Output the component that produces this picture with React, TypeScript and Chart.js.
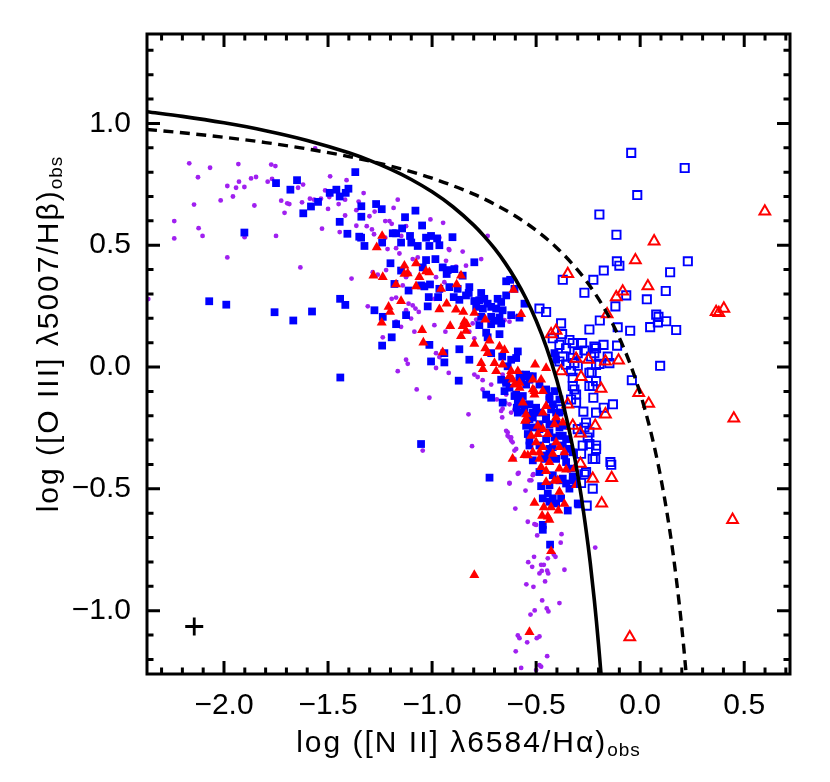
import { useEffect, useRef } from 'react';
import { Chart, registerables } from 'chart.js';

Chart.register(...registerables);

type P = [number, number];

const X_MIN = -2.37;
const X_MAX = 0.72;
const Y_MIN = -1.26;
const Y_MAX = 1.367;

const xTickValues = [-2.0, -1.5, -1.0, -0.5, 0.0, 0.5];
const yTickValues = [-1.0, -0.5, 0.0, 0.5, 1.0];

const xTitleMain = 'log ([N II] λ6584/Hα)';
const yTitleMain = 'log ([O III] λ5007/Hβ)';
const titleSub = 'obs';

// Kauffmann et al. (2003) demarcation, sampled
const kauffmannX = [-2.37, -2.2, -2.0, -1.8, -1.6, -1.4, -1.3, -1.2, -1.1, -1.0, -0.9, -0.8, -0.75, -0.7, -0.65, -0.6, -0.55, -0.5, -0.45, -0.4, -0.35, -0.32, -0.3, -0.28, -0.25, -0.24, -0.22, -0.21, -0.2, -0.195, -0.188];
const kauffmannY = [1.0479, 1.0289, 1.0024, 0.9703, 0.9303, 0.8793, 0.8481, 0.812, 0.7696, 0.719, 0.6579, 0.5824, 0.5375, 0.4867, 0.4286, 0.3615, 0.2833, 0.1909, 0.08, -0.0556, -0.225, -0.3486, -0.4429, -0.5485, -0.7333, -0.8034, -0.9593, -1.0462, -1.14, -1.1898, -1.263];

// Kewley et al. (2001) demarcation, sampled
const kewleyX = [-2.37, -2.2, -2.0, -1.8, -1.6, -1.4, -1.2, -1.0, -0.8, -0.7, -0.6, -0.5, -0.4, -0.3, -0.25, -0.2, -0.15, -0.1, -0.05, 0.0, 0.025, 0.05, 0.075, 0.1, 0.13, 0.16, 0.19, 0.2, 0.21, 0.221];
const kewleyY = [0.9752, 0.9615, 0.943, 0.9213, 0.8953, 0.8638, 0.8247, 0.775, 0.7097, 0.6686, 0.6199, 0.5611, 0.4888, 0.3978, 0.3428, 0.2796, 0.2061, 0.1198, 0.0169, -0.1079, -0.1808, -0.2624, -0.3543, -0.4586, -0.6041, -0.7777, -0.9886, -1.0693, -1.1562, -1.2598];

const purpleDots: P[] = [
  [-2.167, 0.836], [-2.067, 0.818], [-1.931, 0.833], [-1.773, 0.831], [-1.753, 0.825], [-2.125, 0.779], [-1.928, 0.761], [-1.87, 0.774],
  [-1.846, 0.78], [-1.79, 0.761], [-1.769, 0.772], [-1.984, 0.743], [-1.942, 0.736], [-1.902, 0.739], [-1.957, 0.7], [-2.016, 0.684],
  [-2.144, 0.667], [-1.854, 0.663], [-2.239, 0.599], [-2.122, 0.57], [-2.239, 0.528], [-2.103, 0.538], [-1.75, 0.538], [-1.901, 0.533],
  [-1.725, 0.683], [-1.709, 0.633], [-1.696, 0.672], [-1.686, 0.669], [-1.644, 0.736], [-1.62, 0.749], [-1.625, 0.676], [-1.587, 0.691],
  [-1.567, 0.687], [-1.534, 0.691], [-1.514, 0.725], [-1.5, 0.649], [-1.529, 0.568], [-1.49, 0.783], [-1.494, 0.698], [-1.449, 0.669],
  [-1.444, 0.554], [-1.418, 0.622], [-1.418, 0.687], [-1.411, 0.767], [-1.364, 0.644], [-1.364, 0.58], [-1.353, 0.679], [-1.562, 0.897],
  [-1.984, 0.45], [-1.633, 0.409], [-1.387, 0.363], [-2.364, 0.279],
  [-1.329, 0.714], [-1.165, 0.687], [-1.185, 0.653], [-1.276, 0.638], [-1.301, 0.619], [-1.008, 0.606], [-0.947, 0.592], [-1.225, 0.599],
  [-1.205, 0.599], [-1.194, 0.588], [-1.125, 0.578], [-1.314, 0.578], [-1.289, 0.565], [-1.279, 0.545], [-1.148, 0.538], [-1.225, 0.531],
  [-0.965, 0.531], [-0.733, 0.538], [-0.92, 0.484],
  [-1.214, 0.484], [-1.173, 0.488], [-1.157, 0.466], [-1.093, 0.443], [-1.069, 0.45], [-0.917, 0.48], [-0.853, 0.474], [-0.764, 0.443],
  [-0.885, 0.412], [-0.837, 0.416], [-0.933, 0.436],
  [-1.309, 0.249], [-1.194, 0.28], [-1.173, 0.285], [-1.113, 0.26], [-1.093, 0.253], [-1.08, 0.24], [-1.064, 0.226], [-1.101, 0.199],
  [-1.125, 0.233], [-0.989, 0.172], [-0.917, 0.165], [-0.936, 0.145], [-1.085, 0.145], [-0.805, 0.179], [-0.788, 0.195], [-0.821, 0.145],
  [-0.797, 0.118], [-0.981, 0.057], [-0.965, 0.041], [-1.125, 0.03], [-1.117, 0.013], [-1.165, -0.017], [-0.981, -0.004], [-0.92, -0.024],
  [-1.074, -0.092], [-1.013, -0.126], [-0.757, -0.054], [-0.716, -0.072], [-0.757, -0.092], [-0.689, -0.133], [-0.648, -0.146], [-0.661, -0.171],
  [-0.663, -0.207], [-0.62, -0.187], [-0.825, -0.194], [-0.644, -0.262], [-0.637, -0.282], [-0.62, -0.289], [-0.613, -0.309], [-0.808, -0.325],
  [-0.604, -0.343], [-1.045, -0.343], [-0.604, 0.206], [-0.628, 0.186], [-0.652, 0.192], [-0.989, 0.28], [-0.957, 0.314], [-1.141, 0.335],
  [-1.125, 0.369], [-1.109, 0.382], [-0.981, 0.369], [-0.941, 0.348], [-1.173, 0.186], [-1.149, 0.165], [-1.237, 0.122], [-0.797, -0.031],
  [-0.781, -0.041], [-0.661, -0.031], [-1.285, 0.389], [-1.261, 0.379], [-1.221, 0.398],
  [-0.644, -0.113], [-0.668, -0.18], [-0.628, -0.153], [-0.604, -0.174], [-0.637, -0.268], [-0.628, -0.289], [-0.62, -0.302], [-0.596, -0.336],
  [-0.604, -0.377], [-0.588, -0.438], [-0.628, -0.478], [-0.532, -0.465], [-0.516, -0.444],
  [-0.584, -0.435], [-0.513, -0.44], [-0.523, -0.465], [-0.628, -0.476], [-0.551, -0.507], [-0.6, -0.581], [-0.54, -0.635], [-0.508, -0.645],
  [-0.5, -0.648], [-0.495, -0.691], [-0.378, -0.686], [-0.382, -0.721], [-0.415, -0.77], [-0.407, -0.779], [-0.444, -0.785], [-0.51, -0.779],
  [-0.538, -0.801], [-0.519, -0.82], [-0.476, -0.812], [-0.463, -0.812], [-0.484, -0.847], [-0.473, -0.837], [-0.447, -0.836], [-0.442, -0.847],
  [-0.364, -0.832], [-0.457, -0.88], [-0.547, -0.892], [-0.513, -0.902], [-0.471, -0.958], [-0.388, -0.969], [-0.449, -0.991], [-0.441, -1.003],
  [-0.507, -0.999], [-0.527, -1.016], [-0.588, -1.102], [-0.58, -1.113], [-0.497, -1.113], [-0.484, -1.106], [-0.543, -1.13], [-0.598, -1.167],
  [-0.447, -1.187], [-0.572, -1.235], [-0.484, -1.224], [-0.476, -1.23], [-0.5, -1.244], [-0.216, -0.741],
];

const blueFilledSquares: P[] = [
  [-1.75, 0.755], [-1.649, 0.767], [-1.681, 0.728], [-1.619, 0.631], [-1.582, 0.659], [-1.548, 0.678], [-1.492, 0.715], [-1.46, 0.728],
  [-1.444, 0.7], [-1.415, 0.715], [-1.402, 0.732], [-1.444, 0.596], [-1.407, 0.547], [-1.369, 0.8], [-1.902, 0.552], [-1.35, 0.535],
  [-2.071, 0.27], [-1.989, 0.256], [-1.757, 0.225], [-1.667, 0.191], [-1.577, 0.228], [-1.442, 0.28], [-1.417, 0.255], [-1.441, -0.043],
  [-1.34, 0.66], [-1.269, 0.669], [-1.242, 0.648], [-1.34, 0.617], [-1.13, 0.615], [-1.08, 0.642], [-1.048, 0.581], [-1.144, 0.569],
  [-1.189, 0.549], [-1.173, 0.549], [-1.341, 0.531], [-1.24, 0.511], [-1.149, 0.511], [-1.106, 0.538], [-1.1, 0.511], [-1.069, 0.497],
  [-1.029, 0.531], [-1.005, 0.538], [-0.976, 0.528], [-0.965, 0.5], [-1.013, 0.497], [-0.902, 0.533], [-1.325, 0.497],
  [-1.2, 0.426], [-1.149, 0.396], [-1.029, 0.439], [-0.984, 0.443], [-1.045, 0.409], [-0.949, 0.409], [-0.925, 0.398], [-0.893, 0.402],
  [-0.797, 0.43], [-0.853, 0.375], [-0.93, 0.382], [-1.053, 0.335], [-1.037, 0.331], [-1.01, 0.339], [-1.181, 0.341], [-1.113, 0.314],
  [-0.965, 0.321], [-0.917, 0.328], [-0.877, 0.321], [-0.821, 0.328], [-0.644, 0.352], [-0.625, 0.358], [-0.604, 0.321], [-1.016, 0.287],
  [-0.971, 0.287], [-0.896, 0.287], [-0.869, 0.276], [-0.837, 0.294], [-0.824, 0.304], [-0.764, 0.304], [-0.797, 0.271], [-0.773, 0.274],
  [-0.749, 0.28], [-0.733, 0.26], [-0.685, 0.28], [-0.668, 0.267], [-0.644, 0.294], [-0.788, 0.247], [-0.756, 0.24], [-0.716, 0.247],
  [-0.692, 0.24], [-0.661, 0.233], [-0.556, 0.26], [-0.62, 0.213], [-0.58, 0.203], [-0.764, 0.206], [-0.716, 0.206], [-0.676, 0.203],
  [-0.668, 0.179], [-0.7, 0.19], [-0.716, 0.176], [-0.773, 0.172], [-1.277, 0.233], [-1.237, 0.206], [-1.125, 0.213], [-1.173, 0.176],
  [-1.021, 0.249], [-1.194, 0.122], [-1.24, 0.088], [-1.013, 0.091], [-0.74, 0.141], [-0.733, 0.122], [-0.676, 0.135], [-0.869, 0.073],
  [-0.821, 0.03], [-0.941, 0.057], [-1.005, 0.023], [-0.941, 0.019], [-0.716, 0.057], [-0.663, 0.043], [-0.62, 0.03], [-0.588, 0.064],
  [-0.872, -0.056], [-0.74, -0.113], [-0.716, -0.126], [-1.053, -0.316], [-0.668, -0.052], [-0.644, -0.058],
  [-0.58, -0.031], [-0.548, -0.031], [-0.532, -0.052], [-0.58, -0.058], [-0.548, -0.072], [-0.516, -0.038], [-0.596, -0.113], [-0.564, -0.119],
  [-0.588, -0.139], [-0.532, -0.153], [-0.5, -0.167], [-0.516, -0.187], [-0.556, -0.18], [-0.532, -0.214], [-0.436, -0.133], [-0.42, -0.153],
  [-0.428, -0.174], [-0.452, -0.207], [-0.404, -0.187], [-0.548, -0.241], [-0.516, -0.248], [-0.484, -0.235], [-0.436, -0.235], [-0.388, -0.248],
  [-0.54, -0.275], [-0.452, -0.296], [-0.412, -0.289], [-0.372, -0.282], [-0.532, -0.322], [-0.436, -0.336], [-0.372, -0.322], [-0.364, -0.363],
  [-0.428, -0.37], [-0.516, -0.383], [-0.46, -0.377], [-0.644, -0.065], [-0.652, -0.099], [-0.661, -0.146], [-0.593, -0.167],
  [-0.532, -0.038], [-0.484, -0.072], [-0.452, -0.092], [-0.436, -0.119], [-0.412, -0.099], [-0.388, -0.133], [-0.388, -0.187], [-0.484, -0.187],
  [-0.516, -0.207], [-0.452, -0.214], [-0.404, -0.228], [-0.364, -0.241], [-0.484, -0.255], [-0.436, -0.268], [-0.388, -0.282], [-0.356, -0.296],
  [-0.532, -0.302], [-0.484, -0.322], [-0.42, -0.329], [-0.348, -0.336], [-0.324, -0.35], [-0.452, -0.363], [-0.404, -0.377], [-0.356, -0.39],
  [-0.332, -0.417], [-0.484, -0.431], [-0.42, -0.444], [-0.372, -0.458], [-0.324, -0.465], [-0.637, 0.003], [-0.596, 0.037], [-0.556, -0.038],
  [-0.572, -0.058], [-0.628, -0.085], [-0.604, -0.119], [-0.564, -0.153], [-0.54, -0.2], [-0.588, -0.187], [-0.412, 0.057], [-0.404, 0.03],
  [-0.724, -0.454], [-0.476, -0.489], [-0.436, -0.485], [-0.388, -0.465], [-0.356, -0.478], [-0.34, -0.499], [-0.444, -0.519], [-0.42, -0.539],
  [-0.468, -0.539], [-0.38, -0.539], [-0.436, -0.553], [-0.404, -0.56], [-0.348, -0.589], [-0.3, -0.56], [-0.468, -0.648], [-0.468, -0.668],
  [-0.433, -0.729], [-0.324, -0.451], [-0.308, -0.472], [-0.297, -0.564],
];

const redFilledTriangles: P[] = [
  [-1.24, 0.538], [-1.266, 0.491],
  [-1.282, 0.375], [-1.237, 0.369], [-1.133, 0.416], [-1.077, 0.426], [-1.133, 0.382], [-1.117, 0.385], [-1.061, 0.369], [-1.029, 0.393],
  [-1.013, 0.389], [-1.173, 0.339], [-1.077, 0.331], [-0.957, 0.321], [-0.861, 0.375], [-0.882, 0.339], [-1.149, 0.271], [-1.209, 0.247],
  [-1.202, 0.226], [-1.242, 0.182], [-0.93, 0.26], [-0.965, 0.237], [-0.885, 0.236], [-0.85, 0.226], [-0.797, 0.222], [-0.744, 0.195],
  [-0.845, 0.186], [-0.834, 0.176], [-0.853, 0.168], [-0.913, 0.168], [-1.048, 0.152], [-0.837, 0.149], [-0.861, 0.127], [-0.724, 0.109],
  [-1.042, 0.1], [-0.572, 0.217], [-0.609, 0.317], [-0.797, 0.095], [-0.744, 0.077], [-0.733, 0.057], [-0.676, 0.084], [-0.652, 0.07],
  [-0.949, 0.06], [-0.764, 0.016], [-0.756, -0.008], [-0.7, 0.016], [-0.692, -0.017], [-0.661, 0.01], [-0.62, -0.017], [-0.628, -0.038],
  [-0.613, -0.052], [-0.588, -0.017], [-0.58, -0.065], [-0.505, 0.01], [-0.476, -0.052], [-0.516, -0.052], [-0.604, -0.072], [-0.58, -0.085],
  [-0.516, -0.092], [-0.508, -0.113], [-0.564, -0.146], [-0.452, -0.16], [-0.468, -0.187], [-0.548, -0.194], [-0.553, -0.221], [-0.404, -0.207],
  [-0.412, -0.235], [-0.524, -0.282], [-0.492, -0.275], [-0.468, -0.255], [-0.444, -0.275], [-0.5, -0.309], [-0.468, -0.329], [-0.484, -0.35],
  [-0.404, -0.309], [-0.388, -0.329], [-0.556, -0.361], [-0.516, -0.35], [-0.42, -0.356], [-0.613, -0.377],
  [-0.452, -0.004], [-0.492, -0.241], [-0.548, -0.214], [-0.364, -0.35], [-0.54, -0.363], [-0.484, -0.377], [-0.436, -0.39], [-0.316, -0.417],
  [-0.372, -0.228], [-0.468, -0.099], [-0.508, -0.099],
  [-0.476, -0.411], [-0.452, -0.427], [-0.388, -0.417], [-0.356, -0.421], [-0.452, -0.472], [-0.412, -0.467], [-0.396, -0.465], [-0.388, -0.512],
  [-0.508, -0.557], [-0.463, -0.576], [-0.428, -0.576], [-0.393, -0.589], [-0.471, -0.611], [-0.444, -0.614], [-0.436, -0.627], [-0.364, -0.562],
  [-0.428, -0.756], [-0.797, -0.854], [-0.532, -1.088], [-0.308, -0.485],
];

const redOpenTriangles: P[] = [
  [0.599, 0.639], [0.067, 0.516], [-0.348, 0.382], [-0.428, 0.135], [-0.404, 0.149], [-0.023, 0.439], [0.037, 0.332], [-0.084, 0.31],
  [-0.115, 0.287], [-0.159, 0.217], [0.365, 0.226], [0.378, 0.222], [0.402, 0.24], [-0.308, 0.034], [-0.248, 0.03], [-0.167, 0.023],
  [-0.104, 0.027], [-0.284, -0.041], [-0.188, -0.089], [-0.007, -0.106], [0.041, -0.15], [-0.167, -0.194], [0.45, -0.211], [-0.216, -0.241],
  [-0.287, -0.272], [-0.228, -0.458], [-0.137, -0.455], [-0.185, -0.56], [0.444, -0.627], [-0.05, -1.109], [-0.287, -0.397], [-0.38, -0.017],
  [-0.348, -0.153], [-0.324, -0.241],
];

const blueOpenSquares: P[] = [
  [-0.043, 0.879], [0.214, 0.817], [-0.014, 0.706], [-0.196, 0.626], [-0.114, 0.543],
  [-0.484, 0.24], [-0.452, 0.226], [-0.38, 0.179], [-0.372, 0.358], [-0.375, 0.135], [-0.34, 0.111], [-0.388, 0.091], [-0.356, 0.077],
  [-0.324, 0.098], [-0.372, 0.043], [-0.324, 0.037], [-0.3, 0.057], [-0.388, 0.023], [-0.356, 0.01], [-0.316, 0.016], [-0.332, -0.017],
  [-0.324, -0.044], [-0.316, -0.092], [-0.332, -0.133], [-0.38, -0.174],
  [-0.112, 0.434], [-0.1, 0.416], [-0.175, 0.396], [0.229, 0.434], [0.144, 0.389], [-0.225, 0.358], [-0.268, 0.305], [-0.067, 0.294],
  [0.123, 0.312], [0.032, 0.278], [-0.119, 0.249], [0.077, 0.215], [0.088, 0.206], [0.085, 0.183], [0.125, 0.188], [0.048, 0.164],
  [0.173, 0.152], [-0.048, 0.149], [-0.108, 0.163], [-0.194, 0.191], [-0.244, 0.154], [-0.279, 0.098], [-0.268, 0.068], [-0.176, 0.091],
  [-0.212, 0.077], [-0.22, 0.057], [-0.111, 0.088], [-0.156, 0.043], [-0.148, 0.016], [-0.196, 0.013], [-0.3, 0.005], [0.096, 0.005],
  [-0.244, -0.024], [-0.233, -0.022], [-0.244, -0.078], [-0.228, -0.078], [-0.04, -0.054], [-0.225, -0.126], [-0.308, -0.146], [-0.131, -0.153],
  [-0.175, -0.167], [-0.273, -0.183], [-0.268, -0.248], [-0.252, -0.289], [-0.276, -0.322], [-0.244, -0.316], [-0.212, -0.336], [-0.284, -0.356],
  [-0.228, -0.377], [-0.216, -0.377], [-0.143, -0.39],
  [-0.139, -0.401], [-0.268, -0.44], [-0.284, -0.476], [-0.257, -0.569],
  [-0.42, 0.118], [-0.22, 0.084], [-0.236, 0.043], [-0.212, 0.009], [-0.212, -0.058], [-0.324, -0.078], [-0.308, -0.113], [-0.212, -0.187],
  [-0.26, -0.228], [-0.3, -0.255], [-0.244, -0.268], [-0.212, -0.322], [-0.26, -0.431], [-0.228, -0.499],
];

// typical error bar
const errorMarker: P[] = [[-2.143, -1.065]];

const FONT = '"Liberation Sans", Arial, Helvetica, sans-serif';
const TICK_FONT_SIZE = 30;
const TITLE_FONT_SIZE = 30;
const SUB_FONT_SIZE = 19;

const toXY = (pts: P[]) => pts.map(([x, y]) => ({ x, y }));
const zipXY = (xs: number[], ys: number[]) => xs.map((x, i) => ({ x, y: ys[i] }));
const fmt = (v: number) => (v < -1e-9 ? '\u2212' : '') + Math.abs(v).toFixed(1);

function drawTitle(ctx: CanvasRenderingContext2D, main: string, sub: string, cx: number, cy: number, rotate: boolean) {
  ctx.save();
  ctx.translate(cx, cy);
  if (rotate) ctx.rotate(-Math.PI / 2);
  ctx.fillStyle = '#000';
  ctx.textAlign = 'left';
  ctx.textBaseline = 'alphabetic';
  (ctx as any).letterSpacing = '2px';
  ctx.font = `${TITLE_FONT_SIZE}px ${FONT}`;
  const w1 = ctx.measureText(main).width;
  (ctx as any).letterSpacing = '1px';
  ctx.font = `${SUB_FONT_SIZE}px ${FONT}`;
  const w2 = ctx.measureText(sub).width;
  const start = -(w1 + w2) / 2;
  (ctx as any).letterSpacing = '2px';
  ctx.font = `${TITLE_FONT_SIZE}px ${FONT}`;
  ctx.fillText(main, start, 0);
  (ctx as any).letterSpacing = '1px';
  ctx.font = `${SUB_FONT_SIZE}px ${FONT}`;
  ctx.fillText(sub, start + w1, 4);
  ctx.restore();
}

const idlFrame = {
  id: 'idlFrame',
  afterDraw(chart: any) {
    const { ctx, chartArea: a } = chart;
    const xs = chart.scales.x;
    const ys = chart.scales.y;
    ctx.save();
    ctx.strokeStyle = '#000';
    ctx.lineWidth = 3;
    ctx.strokeRect(a.left, a.top, a.right - a.left, a.bottom - a.top);
    ctx.beginPath();
    for (let i = Math.ceil(X_MIN * 10 - 1e-6); i <= Math.floor(X_MAX * 10 + 1e-6); i++) {
      const px = xs.getPixelForValue(i / 10);
      const len = i % 5 === 0 ? 13 : 6.5;
      ctx.moveTo(px, a.bottom);
      ctx.lineTo(px, a.bottom - len);
      ctx.moveTo(px, a.top);
      ctx.lineTo(px, a.top + len);
    }
    for (let i = Math.ceil(Y_MIN * 10 - 1e-6); i <= Math.floor(Y_MAX * 10 + 1e-6); i++) {
      const py = ys.getPixelForValue(i / 10);
      const len = i % 5 === 0 ? 13 : 6.5;
      ctx.moveTo(a.left, py);
      ctx.lineTo(a.left + len, py);
      ctx.moveTo(a.right, py);
      ctx.lineTo(a.right - len, py);
    }
    ctx.stroke();
    ctx.restore();
    drawTitle(ctx, xTitleMain, titleSub, (a.left + a.right) / 2, 752, false);
    drawTitle(ctx, yTitleMain, titleSub, 58, 334, true);
  },
};

export default function App() {
  const ref = useRef<HTMLCanvasElement | null>(null);
  useEffect(() => {
    if (!ref.current) return;
    const chart = new Chart(ref.current, {
      type: 'scatter',
      data: {
        datasets: [
          {
            label: 'error',
            data: toXY(errorMarker),
            pointStyle: 'cross',
            pointRadius: 9,
            borderColor: '#000',
            borderWidth: 2.8,
          },
          {
            label: 'Kauffmann',
            data: zipXY(kauffmannX, kauffmannY),
            showLine: true,
            pointRadius: 0,
            borderColor: '#000',
            borderWidth: 3.6,
            cubicInterpolationMode: 'monotone',
          },
          {
            label: 'Kewley',
            data: zipXY(kewleyX, kewleyY),
            showLine: true,
            pointRadius: 0,
            borderColor: '#000',
            borderWidth: 3.4,
            borderDash: [10, 6.5],
            cubicInterpolationMode: 'monotone',
          },
          {
            label: 'open triangles',
            data: toXY(redOpenTriangles),
            pointStyle: 'triangle',
            pointRadius: 6.2,
            borderColor: '#ff0000',
            backgroundColor: 'rgba(0,0,0,0)',
            borderWidth: 2,
          },
          {
            label: 'open squares',
            data: toXY(blueOpenSquares),
            pointStyle: 'rect',
            pointRadius: 5.8,
            borderColor: '#0000ff',
            backgroundColor: 'rgba(0,0,0,0)',
            borderWidth: 1.9,
          },
          {
            label: 'filled triangles',
            data: toXY(redFilledTriangles),
            pointStyle: 'triangle',
            pointRadius: 5.8,
            borderColor: '#ff0000',
            backgroundColor: '#ff0000',
            borderWidth: 0,
          },
          {
            label: 'filled squares',
            data: toXY(blueFilledSquares),
            pointStyle: 'rect',
            pointRadius: 5.5,
            borderColor: '#0000ff',
            backgroundColor: '#0000ff',
            borderWidth: 0,
          },
          {
            label: 'dots',
            data: toXY(purpleDots),
            pointStyle: 'circle',
            pointRadius: 2.4,
            borderColor: '#a020f0',
            backgroundColor: '#a020f0',
            borderWidth: 0,
          },
        ],
      },
      options: {
        animation: false,
        responsive: false,
        devicePixelRatio: 1,
        layout: { padding: { top: 28, right: 40, left: 0, bottom: 0 } },
        plugins: { legend: { display: false }, tooltip: { enabled: false } },
        events: [],
        scales: {
          x: {
            type: 'linear',
            min: X_MIN,
            max: X_MAX,
            grid: { display: false, drawTicks: false },
            border: { display: false },
            ticks: {
              font: { family: FONT, size: TICK_FONT_SIZE },
              color: '#000',
              padding: 14,
              maxRotation: 0,
              minRotation: 0,
              autoSkip: false,
              callback: (v: any) => fmt(Number(v)),
            },
            afterBuildTicks: (s: any) => {
              s.ticks = xTickValues.map((v) => ({ value: v }));
            },
            afterFit: (s: any) => {
              s.height = 108;
            },
          },
          y: {
            type: 'linear',
            min: Y_MIN,
            max: Y_MAX,
            grid: { display: false, drawTicks: false },
            border: { display: false },
            ticks: {
              font: { family: FONT, size: TICK_FONT_SIZE },
              color: '#000',
              padding: 16,
              autoSkip: false,
              callback: (v: any) => fmt(Number(v)),
            },
            afterBuildTicks: (s: any) => {
              s.ticks = yTickValues.map((v) => ({ value: v }));
            },
            afterFit: (s: any) => {
              s.width = 147;
            },
          },
        },
      },
      plugins: [idlFrame],
    });
    return () => chart.destroy();
  }, []);

  return (
    <div style={{ position: 'absolute', left: 0, top: 0, width: 830, height: 782, background: '#fff' }}>
      <canvas ref={ref} width={830} height={782} style={{ display: 'block' }} />
    </div>
  );
}
